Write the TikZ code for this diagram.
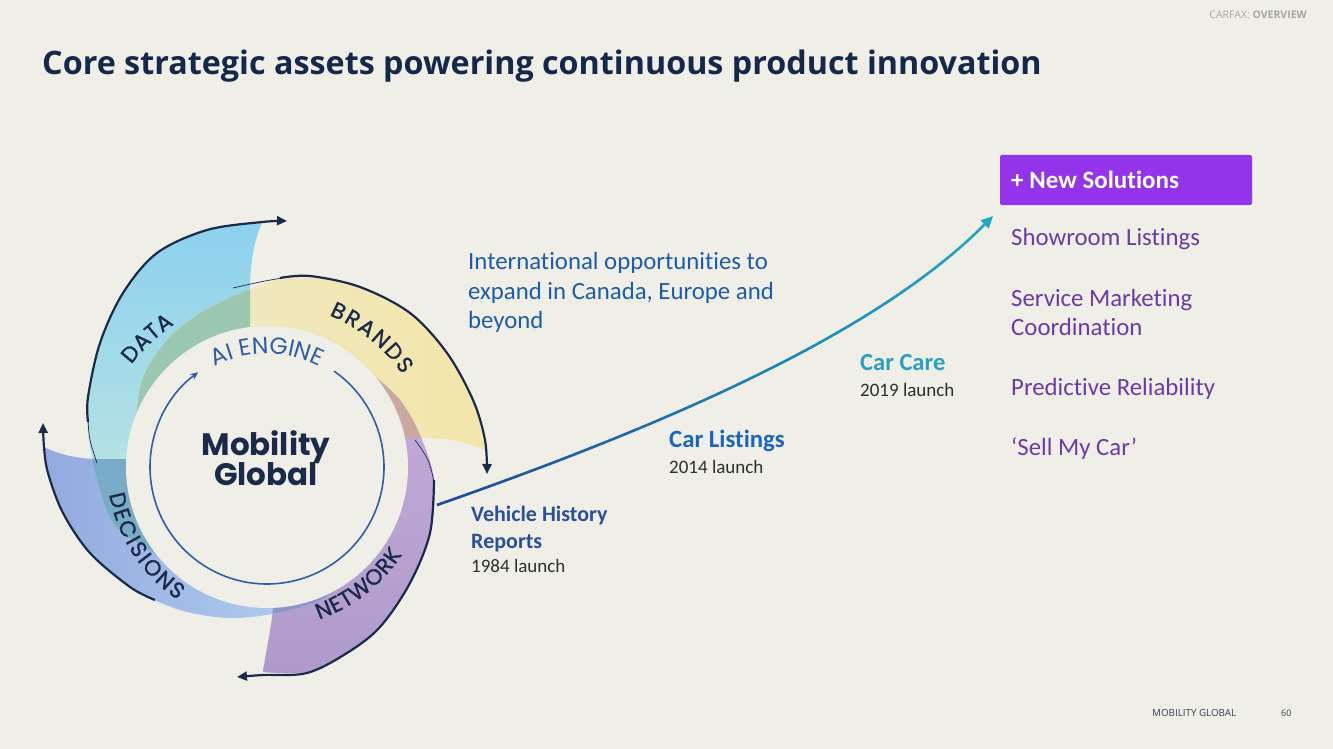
\documentclass[tikz,border=0pt]{standalone}
\usepackage{fontspec}
\setmainfont{Carlito}[Ligatures=CommonOff]
\newfontfamily\titlefont{Open Sans}
\newfontfamily\hdrfont{Open Sans}
\newfontfamily\geofont{Poppins}
\newfontfamily\geomed{Poppins}[FakeBold=1.2]
\usetikzlibrary{arrows.meta,decorations.text}
\definecolor{bg}{HTML}{F0EFE7}
\definecolor{navy}{HTML}{1B2A4A}
\definecolor{titlenavy}{HTML}{15284B}
\definecolor{dataTop}{HTML}{8CD1EE}
\definecolor{dataBot}{HTML}{C4E8E0}
\definecolor{brandsL}{HTML}{EEE9C8}
\definecolor{brandsC}{HTML}{F3E6A9}
\definecolor{netTop}{HTML}{C4ACD8}
\definecolor{netBot}{HTML}{AE9ACB}
\definecolor{decLeft}{HTML}{93AADF}
\definecolor{decRight}{HTML}{B6D5F0}
\definecolor{dbC}{HTML}{9CC8B2}
\definecolor{bnC}{HTML}{CBA9A0}
\definecolor{ndC}{HTML}{8D95C7}
\definecolor{ddC}{HTML}{78ACC6}
\definecolor{aiblue}{HTML}{2F5EA8}
\definecolor{intlblue}{HTML}{1D5CAB}
\definecolor{vhrblue}{HTML}{2C4F9C}
\definecolor{clblue}{HTML}{1A64C2}
\definecolor{ccteal}{HTML}{29A0BF}
\definecolor{purpleBox}{HTML}{9333EA}
\definecolor{purpleTxt}{HTML}{6A3BA6}
\definecolor{grayTxt}{HTML}{2E2E2E}
\definecolor{hdrGray}{HTML}{A5A5A5}
\definecolor{footGray}{HTML}{3A4050}
\definecolor{lineStart}{HTML}{1B4A9C}
\definecolor{lineEnd}{HTML}{22A8C6}
\newcommand\ringfont{\color{navy}\geomed\fontsize{22}{22}\selectfont}
\newcommand\aifont{\color{aiblue}\geofont\fontsize{23.5}{23.5}\selectfont}
\newcommand\bodyfont{\fontsize{24.8}{29}\selectfont}
\newcommand\ks{\kern2pt}
\newcommand\kt{\kern0.6pt}
\def\pathData{plot[smooth,tension=0.55] coordinates {(158,-555) (115,-525) (98,-482) (89,-440) (88,-397) (100,-343) (123,-293) (157,-253) (207,-230) (262,-223)} .. controls (252,-245) and (250,-270) .. (250,-295) -- (250,-400) -- cycle}
\def\pathBrands{plot[smooth,tension=0.55] coordinates {(136,-417) (143,-377) (167,-340) (200,-313) (247,-290) (280,-279) (310,-276) (360,-287) (410,-313) (447,-353) (473,-400) (485,-450)} .. controls (465,-441) and (445,-438) .. (427,-438) -- (380,-438) -- cycle}
\def\pathNet{plot[smooth,tension=0.55] coordinates {(373,-375) (400,-400) (420,-435) (434,-480) (430,-533) (410,-583) (380,-627) (347,-653) (307,-672) (263,-672)} .. controls (266,-650) and (272,-625) .. (273,-607) -- (273,-560) -- cycle}
\def\pathDec{plot[smooth,tension=0.55] coordinates {(357,-574) (320,-600) (277,-613) (230,-618) (180,-610) (130,-587) (90,-553) (63,-513) (48,-473) (44,-447)} .. controls (60,-455) and (80,-459) .. (97,-459) -- (160,-459) -- cycle}
\tikzset{
  txt/.style={anchor=base west, inner sep=0pt},
  navyarrow/.style={draw=navy, line width=2.2pt, -{Triangle[length=10pt,width=9pt]}},
  thinedge/.style={draw=navy, line width=0.7pt},
  ringtext/.style={decorate, decoration={text along path, text={|\ringfont|#1}, text align=center}},
  growline/.style={line width=2.6pt, -{Triangle[length=12pt,width=11pt]}}
}
\begin{document}
\begin{tikzpicture}[x=1pt,y=1pt]
\fill[bg] (0,0) rectangle (1333,-749);
\useasboundingbox (0,0) rectangle (1333,-749);
\coordinate (C) at (267,-467);

% ring segments
\shade[top color=dataTop, bottom color=dataBot] \pathData;
\shade[left color=brandsL, right color=brandsC] \pathBrands;
\shade[top color=netTop, bottom color=netBot] \pathNet;
\shade[left color=decLeft, right color=decRight] \pathDec;
\begin{scope}\clip \pathData; \fill[dbC] \pathBrands; \end{scope}
\begin{scope}\clip \pathBrands; \fill[bnC] \pathNet; \end{scope}
\begin{scope}\clip \pathNet; \fill[ndC] \pathDec; \end{scope}
\begin{scope}\clip \pathDec; \fill[ddC] \pathData; \end{scope}
\fill[bg] (C) circle[radius=141];

% outer arrows
\draw[thinedge] plot[smooth,tension=0.55] coordinates {(97,-463) (90,-440) (88,-420)};
\draw[navyarrow] plot[smooth,tension=0.55] coordinates {(88,-422) (88,-397) (100,-343) (123,-293) (157,-253) (207,-230) (262,-222) (287,-221)};
\draw[thinedge] plot[smooth,tension=0.55] coordinates {(233,-288) (260,-282) (282,-278)};
\draw[navyarrow] plot[smooth,tension=0.55] coordinates {(280,-278) (310,-276) (360,-287) (410,-313) (447,-353) (473,-400) (485,-440) (487,-474)};
\draw[thinedge] plot[smooth,tension=0.55] coordinates {(415,-440) (428,-460) (434,-482)};
\draw[navyarrow] plot[smooth,tension=0.55] coordinates {(434,-480) (430,-533) (410,-583) (380,-627) (347,-653) (307,-673) (263,-675) (237,-677)};
\draw[navyarrow] plot[smooth,tension=0.55] coordinates {(155,-600) (130,-587) (90,-553) (63,-513) (48,-473) (44,-447) (43,-423)};

% ring labels
\path[ringtext={{D\kt}{A\kt}{T\kt}{A}}] ([shift={(165:170)}]C) arc[start angle=165, end angle=101, radius=170];
\path[ringtext={{B\ks}{R\ks}{A\ks}{N\ks}{D\ks}{S}}] ([shift={(94:164)}]C) arc[start angle=94, end angle=8, radius=164];
\path[ringtext={{D\ks}{E\ks}{C\ks}{I\ks}{S\ks}{I\ks}{O\ks}{N\ks}{S}}] ([shift={(153:160)}]C) arc[start angle=153, end angle=273, radius=160];
\path[ringtext={{N\kt}{E\kt}{T\kt}{W\kt}{O\kt}{R\kt}{K}}] ([shift={(-103:161)}]C) arc[start angle=-103, end angle=-1, radius=161];

% AI engine circle
\draw[aiblue, line width=1.6pt, -{Stealth[length=8pt,width=7pt]}] ([shift={(55:117)}]C) arc[start angle=55, end angle=-234, radius=117];
\path[decorate, decoration={text along path, text={|\aifont|AI ENGINE}, text align=center}] ([shift={(140:113)}]C) arc[start angle=140, end angle=40, radius=113];
\node[anchor=base, inner sep=0pt, font=\geofont\bfseries\fontsize{31}{31}\selectfont, text=navy] (mob1) at (266,-455) {Mobility};
\node[anchor=base, inner sep=0pt, font=\geofont\bfseries\fontsize{31}{31}\selectfont, text=navy] (mob2) at (266,-485) {Global};

% growth line
\coordinate (g0) at (437,-505);
\coordinate (g1) at (680,-420);
\coordinate (g2) at (880,-330);
\coordinate (g3) at (993,-216);
\foreach \i in {0,...,19} {
  \pgfmathsetmacro\xa{430+\i*29}
  \pgfmathsetmacro\xb{\i==19 ? 1333 : 430+(\i+1)*29+0.6}
  \pgfmathsetmacro\pc{100*\i/19}
  \begin{scope}
    \clip (\xa,0) rectangle (\xb,-749);
    \draw[growline, color=lineEnd!\pc!lineStart] (g0) .. controls (g1) and (g2) .. (g3);
  \end{scope}
}

% texts
\node[txt, font=\titlefont\bfseries\fontsize{32.3}{38}\selectfont, text=titlenavy] (title) at (42,-75) {Core strategic assets powering continuous product innovation};
\node[anchor=base east, inner sep=0pt, font=\hdrfont\fontsize{10.5}{12}\selectfont, text=hdrGray] (hdr) at (1307,-19) {CARFAX: \textbf{OVERVIEW}};
\node[txt, font=\hdrfont\fontsize{9.8}{12}\selectfont, text=footGray] (foot) at (1152,-716) {MOBILITY GLOBAL};
\node[txt, font=\hdrfont\fontsize{9}{12}\selectfont, text=footGray] (pg) at (1281,-716) {60};

\node[txt, font=\bodyfont, text=intlblue] (int1) at (468,-269) {International opportunities to};
\node[txt, font=\bodyfont, text=intlblue] (int2) at (468,-299) {expand in Canada, Europe and};
\node[txt, font=\bodyfont, text=intlblue] (int3) at (468,-328) {beyond};

\node[txt, font=\bfseries\fontsize{22}{26}\selectfont, text=vhrblue] (vhr1) at (471,-521) {Vehicle History};
\node[txt, font=\bfseries\fontsize{22}{26}\selectfont, text=vhrblue] (vhr2) at (471,-548) {Reports};
\node[txt, font=\fontsize{19}{22}\selectfont, text=grayTxt] (vhr3) at (471,-572) {1984 launch};

\node[txt, font=\bfseries\fontsize{24.8}{28}\selectfont, text=clblue] (cl1) at (669,-447) {Car Listings};
\node[txt, font=\fontsize{19}{22}\selectfont, text=grayTxt] (cl2) at (669,-473) {2014 launch};

\node[txt, font=\bfseries\fontsize{24.5}{28}\selectfont, text=ccteal] (cc1) at (860,-370) {Car Care};
\node[txt, font=\fontsize{19}{22}\selectfont, text=grayTxt] (cc2) at (860,-396) {2019 launch};

\fill[purpleBox, rounded corners=2pt] (1000,-155) rectangle (1252,-205);
\node[txt, font=\bfseries\fontsize{25}{28}\selectfont, text=white] (ns) at (1011,-188) {+ New Solutions};
\node[txt, font=\bodyfont, text=purpleTxt] (s1) at (1011,-245) {Showroom Listings};
\node[txt, font=\bodyfont, text=purpleTxt] (s2) at (1011,-306) {Service Marketing};
\node[txt, font=\bodyfont, text=purpleTxt] (s3) at (1011,-335) {Coordination};
\node[txt, font=\bodyfont, text=purpleTxt] (s4) at (1011,-395) {Predictive Reliability};
\node[txt, font=\bodyfont, text=purpleTxt] (s5) at (1011,-455) {‘Sell My Car’};
\end{tikzpicture}
\end{document}
